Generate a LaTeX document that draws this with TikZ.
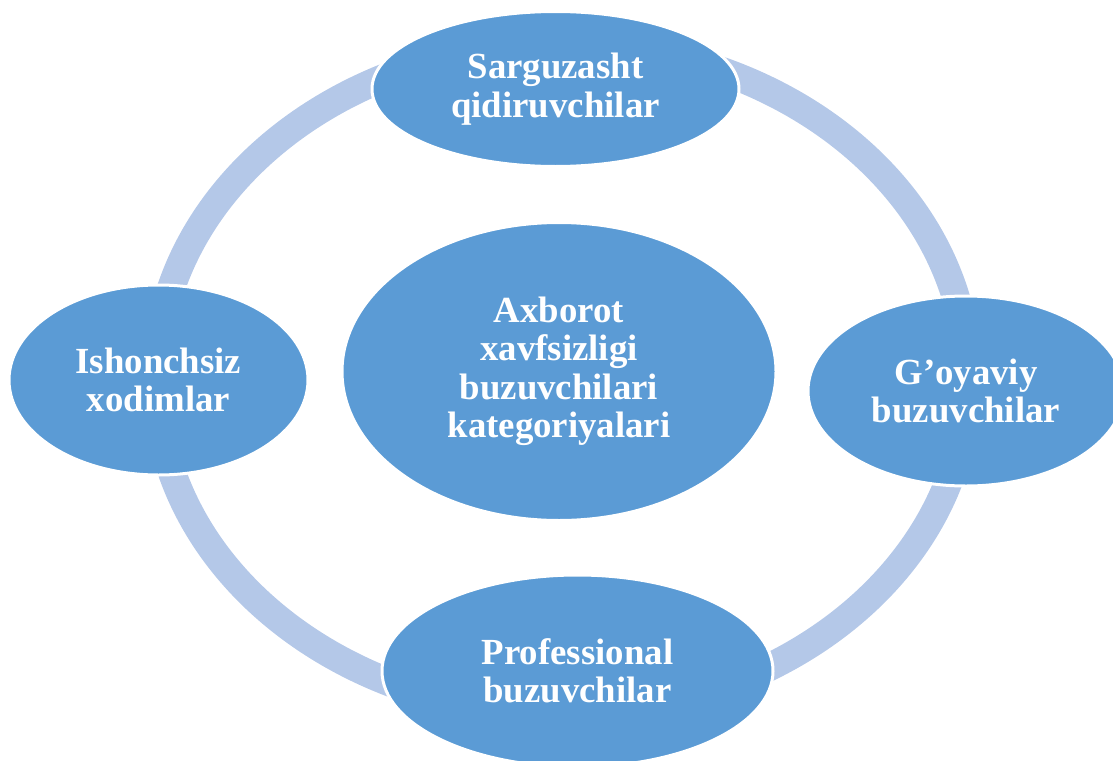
\documentclass[tikz,border=0pt]{standalone}
\usepackage{fontspec}
\setmainfont{Liberation Serif}
\usetikzlibrary{shapes.geometric}
\definecolor{nodeblue}{HTML}{5B9BD5}
\definecolor{ringblue}{HTML}{B4C8E8}
\tikzset{
  bubble/.style={ellipse, fill=nodeblue, draw=white, line width=3pt, inner sep=0pt,
    text=white, align=center, font=\bfseries\fontsize{36.8}{38.5}\selectfont},
  ring/.style={draw=ringblue, line width=28pt}
}
\begin{document}
\begin{tikzpicture}[x=1pt,y=-1pt]
\useasboundingbox (0,0) rectangle (1113,760);
\clip (0,0) rectangle (1113,760);
\coordinate (rc) at (562,379);
\draw[ring] (rc) ellipse [x radius=406pt, y radius=335pt];
\node[bubble, minimum width=367pt, minimum height=155pt] (top) at (555.5,89) {Sarguzasht\\qidiruvchilar};
\node[bubble, minimum width=316pt, minimum height=190pt] (right) at (966,391) {G’oyaviy\\buzuvchilar};
\node[bubble, minimum width=299pt, minimum height=190pt] (left) at (158.5,380) {Ishonchsiz\\xodimlar};
\node[bubble, minimum width=391pt, minimum height=192pt] (bottom) at (577.5,671) {Professional\\buzuvchilar};
\node[bubble, minimum width=434pt, minimum height=298pt] (center) at (559,371.5) {Axborot\\xavfsizligi\\buzuvchilari\\kategoriyalari};
\end{tikzpicture}
\end{document}
